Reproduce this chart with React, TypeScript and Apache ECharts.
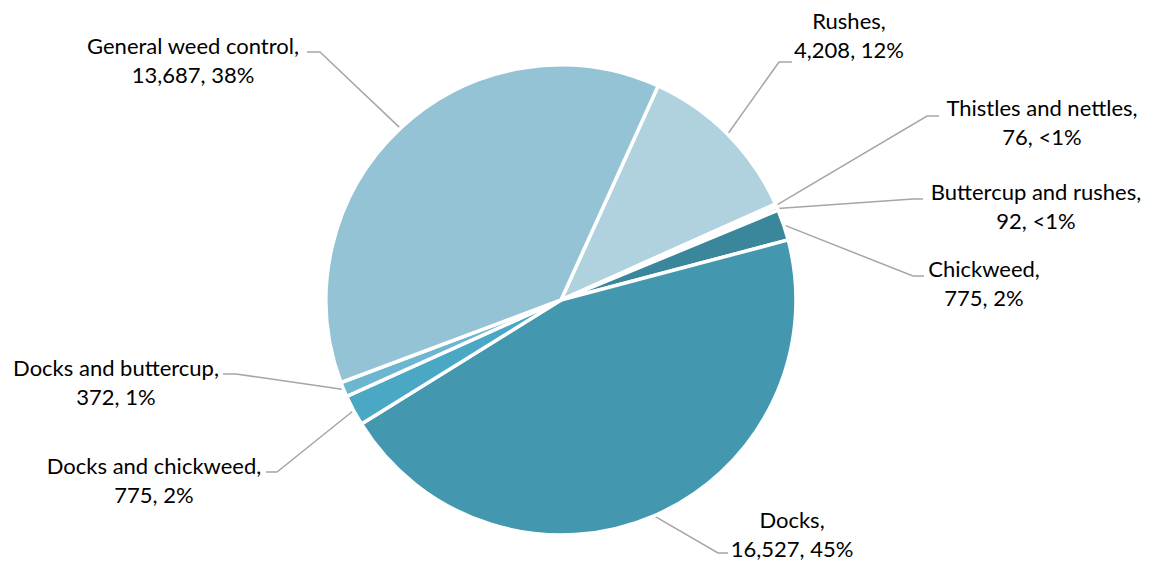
import React, { useEffect, useRef } from "react";
import * as echarts from "echarts";

const categories = [
  "Rushes",
  "Thistles and nettles",
  "Buttercup and rushes",
  "Chickweed",
  "Docks",
  "Docks and chickweed",
  "Docks and buttercup",
  "General weed control",
];
const values = [4208, 76, 92, 775, 16527, 775, 372, 13687];
const percentLabels = ["12%", "<1%", "<1%", "2%", "45%", "2%", "1%", "38%"];

const colors = [
  "#AFD2DE",
  "#5FA9C0",
  "#3E8FA5",
  "#3A879B",
  "#4398B0",
  "#4BA8C4",
  "#6CB7CF",
  "#93C3D4",
];

// label placement (layout only): text block center, leader elbow, leader end
const labelSpots = [
  { cx: 849, cy: 35, elbow: [779, 62], end: [792, 62] },
  { cx: 1042, cy: 122, elbow: [927, 116], end: [939, 116] },
  { cx: 1036, cy: 206, elbow: [913, 199], end: [923, 199] },
  { cx: 984, cy: 283, elbow: [913, 276], end: [924, 276] },
  { cx: 792, cy: 534, elbow: [718, 553], end: [728, 553] },
  { cx: 154, cy: 480, elbow: [277, 472], end: [266, 472] },
  { cx: 116, cy: 382, elbow: [236, 374], end: [223, 374] },
  { cx: 193, cy: 60, elbow: [320, 52], end: [307, 52] },
];

const fmt = (v: number) => v.toLocaleString("en-US");

export default function App() {
  const ref = useRef<HTMLDivElement>(null);
  useEffect(() => {
    if (!ref.current) return;
    const chart = echarts.init(ref.current, null, { renderer: "svg" });
    chart.setOption({
      animation: false,
      backgroundColor: "#ffffff",
      series: [
        {
          type: "pie",
          center: [561, 300],
          radius: [0, 235],
          startAngle: 65.6,
          clockwise: true,
          avoidLabelOverlap: false,
          itemStyle: { borderColor: "#ffffff", borderWidth: 3.5 },
          label: {
            show: true,
            position: "outside",
            formatter: (p: any) =>
              `${p.name},\n${fmt(p.value)}, ${percentLabels[p.dataIndex]}`,
            fontFamily: "Lato, Calibri, sans-serif",
            fontSize: 22,
            lineHeight: 29,
            color: "#000000",
            align: "center",
          },
          labelLine: {
            show: true,
            length: 20,
            length2: 10,
            lineStyle: { color: "#A6A6A6", width: 1.5 },
          },
          labelLayout: (params: any) => {
            const s = labelSpots[params.dataIndex];
            const start =
              params.labelLinePoints && params.labelLinePoints[0]
                ? params.labelLinePoints[0]
                : s.elbow;
            return {
              x: s.cx,
              y: s.cy,
              align: "center",
              verticalAlign: "middle",
              labelLinePoints: [start, s.elbow, s.end],
            };
          },
          data: categories.map((name, i) => ({
            name,
            value: values[i],
            itemStyle: { color: colors[i] },
          })),
        },
      ],
    });
    return () => chart.dispose();
  }, []);
  return (
    <div
      ref={ref}
      style={{ position: "fixed", left: 0, top: 0, width: 1155, height: 566 }}
    />
  );
}
